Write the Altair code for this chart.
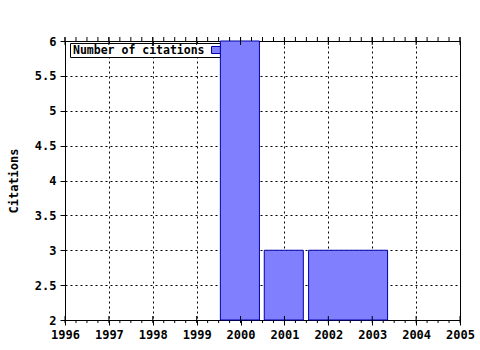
import altair as alt
import pandas as pd

# Data
bar_start = [1999.54, 2000.54, 2001.55]
bar_end = [2000.43, 2001.43, 2003.35]
citations = [6, 3, 3]
years = list(range(1996, 2006))
y_ticks = [2, 2.5, 3, 3.5, 4, 4.5, 5, 5.5, 6]
minor_x = [1996 + i * 0.25 for i in range(37)]
legend_label = "Number of citations"

FONT = "DejaVu Sans Mono"
W, H = 395, 279

bars_df = pd.DataFrame({"start": bar_start, "end": bar_end, "citations": citations, "base": [2] * 3})

xscale = alt.Scale(domain=[1996, 2005], nice=False, zero=False)
yscale = alt.Scale(domain=[2, 6], nice=False, zero=False)

base = alt.Chart(bars_df)

bars = base.mark_rect(fill="#8080ff", stroke="#0000a8", strokeWidth=1).encode(
    x=alt.X("start:Q", scale=xscale,
            axis=alt.Axis(values=years, format="d", title=None, grid=True,
                          gridColor="black", gridDash=[2, 3], gridOpacity=1,
                          domainColor="black", tickColor="black", tickSize=5,
                          labelFont=FONT, labelFontSize=12, labelFontWeight="bold",
                          labelColor="black", labelPadding=4, labelFlush=False)),
    x2="end:Q",
    y=alt.Y("citations:Q", scale=yscale,
            axis=alt.Axis(values=y_ticks, format="~g", title="Citations", grid=True,
                          gridColor="black", gridDash=[2, 3], gridOpacity=1,
                          domainColor="black", tickColor="black", tickSize=5,
                          labelFont=FONT, labelFontSize=12, labelFontWeight="bold",
                          labelColor="black", labelPadding=4, labelFlush=False,
                          titleFont=FONT, titleFontSize=12, titleFontWeight="bold",
                          titleColor="black", titlePadding=14)),
    y2="base:Q",
)

minor_x_df = pd.DataFrame({"x": minor_x})
year_df = pd.DataFrame({"x": years})

top_minor = alt.Chart(minor_x_df).mark_rule(color="black", strokeWidth=1).encode(
    x=alt.X("x:Q", scale=xscale), y=alt.value(-4), y2=alt.value(0))
bottom_minor = alt.Chart(minor_x_df).mark_rule(color="black", strokeWidth=1).encode(
    x=alt.X("x:Q", scale=xscale), y=alt.value(H), y2=alt.value(H + 3))
top_major = alt.Chart(year_df).mark_rule(color="black", strokeWidth=1).encode(
    x=alt.X("x:Q", scale=xscale), y=alt.value(-4), y2=alt.value(4))
bottom_major = alt.Chart(year_df).mark_rule(color="black", strokeWidth=1).encode(
    x=alt.X("x:Q", scale=xscale), y=alt.value(H - 4), y2=alt.value(H))

leg_df = pd.DataFrame({"label": [legend_label]})
leg_box = alt.Chart(leg_df).mark_rect(fill="white", stroke="black", strokeWidth=1).encode(
    x=alt.value(5.5), x2=alt.value(155.5), y=alt.value(2.5), y2=alt.value(16.5))
leg_text = alt.Chart(leg_df).mark_text(align="left", baseline="middle", font=FONT,
                                       fontSize=11.5, fontWeight="bold", color="black").encode(
    x=alt.value(8), y=alt.value(10), text="label:N")
leg_swatch = alt.Chart(leg_df).mark_rect(fill="#8080ff", stroke="#0000a8", strokeWidth=1).encode(
    x=alt.value(146.5), x2=alt.value(158.5), y=alt.value(5.5), y2=alt.value(12.5))

chart = alt.layer(
    leg_box, leg_text, leg_swatch, bars,
    top_minor, bottom_minor, top_major, bottom_major,
).properties(
    width=W, height=H,
    autosize=alt.AutoSizeParams(type="none"),
    padding={"left": 65, "top": 41, "right": 20, "bottom": 30},
    background="white",
).configure_view(stroke="black", strokeWidth=1)

chart.save("out.html", embed_options={"renderer": "svg", "actions": False})
